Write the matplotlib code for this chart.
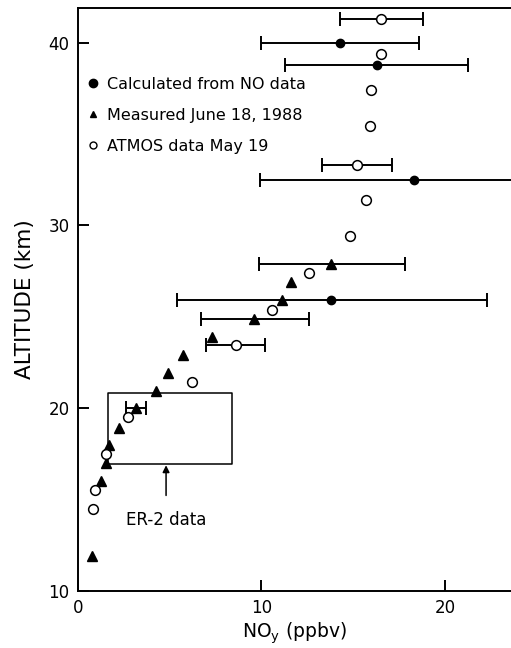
import matplotlib
matplotlib.use("Agg")
import matplotlib.pyplot as plt
from matplotlib.lines import Line2D
import numpy as np

# ATMOS data May 19 (open circles)
atmos_alt = np.array([41.3, 39.4, 37.4, 35.45, 33.3, 31.4, 29.4, 27.4, 25.4, 23.45, 21.45, 19.5, 17.5, 15.5, 14.5])
atmos_noy = np.array([16.5, 16.5, 15.95, 15.9, 15.2, 15.7, 14.8, 12.6, 10.55, 8.6, 6.2, 2.7, 1.55, 0.95, 0.82])
atmos_lo = np.array([14.3, np.nan, np.nan, np.nan, 13.3, np.nan, np.nan, np.nan, np.nan, 7.0, np.nan, np.nan, np.nan, np.nan, np.nan])
atmos_hi = np.array([18.8, np.nan, np.nan, np.nan, 17.1, np.nan, np.nan, np.nan, np.nan, 10.2, np.nan, np.nan, np.nan, np.nan, np.nan])

# calculated from NO data (filled circles)
calc_alt = np.array([40.0, 38.8, 32.5, 25.9])
calc_noy = np.array([14.3, 16.3, 18.3, 13.8])
calc_lo = np.array([10.0, 11.3, 9.9, 5.4])
calc_hi = np.array([18.6, 21.25, 26.7, 22.3])

# measured June 18, 1988 (triangles)
meas_alt = np.array([27.9, 26.9, 25.9, 24.9, 23.9, 22.9, 21.95, 20.95, 20.0, 18.9, 17.97, 17.0, 16.0, 11.9])
meas_noy = np.array([13.8, 11.6, 11.1, 9.6, 7.3, 5.7, 4.9, 4.25, 3.16, 2.25, 1.7, 1.5, 1.23, 0.75])
meas_lo = np.array([9.86, np.nan, np.nan, 6.7, np.nan, np.nan, np.nan, np.nan, 2.6, np.nan, np.nan, np.nan, np.nan, np.nan])
meas_hi = np.array([17.8, np.nan, np.nan, 12.6, np.nan, np.nan, np.nan, np.nan, 3.7, np.nan, np.nan, np.nan, np.nan, np.nan])

# ER-2 box
box_x = [1.65, 8.4]
box_y = [16.93, 20.85]

fig = plt.figure(figsize=(5.11, 6.48), dpi=100)
ax = fig.add_axes([78 / 511, 57 / 648, 433 / 511, 583 / 648])


def bars(noy, alt, lo, hi):
    m = ~np.isnan(lo)
    ax.errorbar(noy[m], alt[m], xerr=[noy[m] - lo[m], hi[m] - noy[m]], fmt='none',
                ecolor='black', elinewidth=1.4, capsize=5, capthick=1.4, zorder=2)


bars(atmos_noy, atmos_alt, atmos_lo, atmos_hi)
bars(calc_noy, calc_alt, calc_lo, calc_hi)
bars(meas_noy, meas_alt, meas_lo, meas_hi)

ax.plot(calc_noy, calc_alt, 'o', color='black', ms=6, ls='none', zorder=3)
ax.plot(meas_noy, meas_alt, '^', color='black', ms=6.5, ls='none', zorder=3)
ax.plot(atmos_noy, atmos_alt, 'o', mfc='white', mec='black', mew=1.1, ms=7, ls='none', zorder=4)

ax.plot([box_x[0], box_x[1], box_x[1], box_x[0], box_x[0]],
        [box_y[0], box_y[0], box_y[1], box_y[1], box_y[0]], color='black', lw=1.1, zorder=1)

ax.annotate('ER-2 data', xy=(4.8, box_y[0] - 0.05), xytext=(4.8, 13.9),
            ha='center', va='center', fontsize=12,
            arrowprops=dict(arrowstyle='-|>', color='black', lw=1.1, mutation_scale=10,
                            shrinkA=9, shrinkB=0))

handles = [
    Line2D([], [], marker='o', color='black', ls='none', ms=6),
    Line2D([], [], marker='^', color='black', ls='none', ms=5),
    Line2D([], [], marker='o', mfc='white', mec='black', ls='none', ms=5),
]
labels = ['Calculated from NO data', 'Measured June 18, 1988', 'ATMOS data May 19']
ax.legend(handles, labels, loc='upper left', bbox_to_anchor=(0.004, 0.893), frameon=False,
          fontsize=11.5, handlelength=0.8, handletextpad=0.5, labelspacing=1.0, borderaxespad=0)

ax.set_xlim(0, 23.6)
ax.set_ylim(10, 41.9)
ax.set_xticks([0, 10, 20])
ax.set_yticks([10, 20, 30, 40])
ax.tick_params(direction='in', length=8, width=1.4, labelsize=12, pad=6)
for s in ['left', 'bottom', 'top']:
    ax.spines[s].set_linewidth(1.4)
ax.spines['right'].set_visible(False)

ax.set_xlabel('NO$_\\mathregular{y}$ (ppbv)', fontsize=13.5, labelpad=2)
ax.set_ylabel('ALTITUDE (km)', fontsize=15.5, labelpad=10)

fig.savefig('out.png', dpi=100)
